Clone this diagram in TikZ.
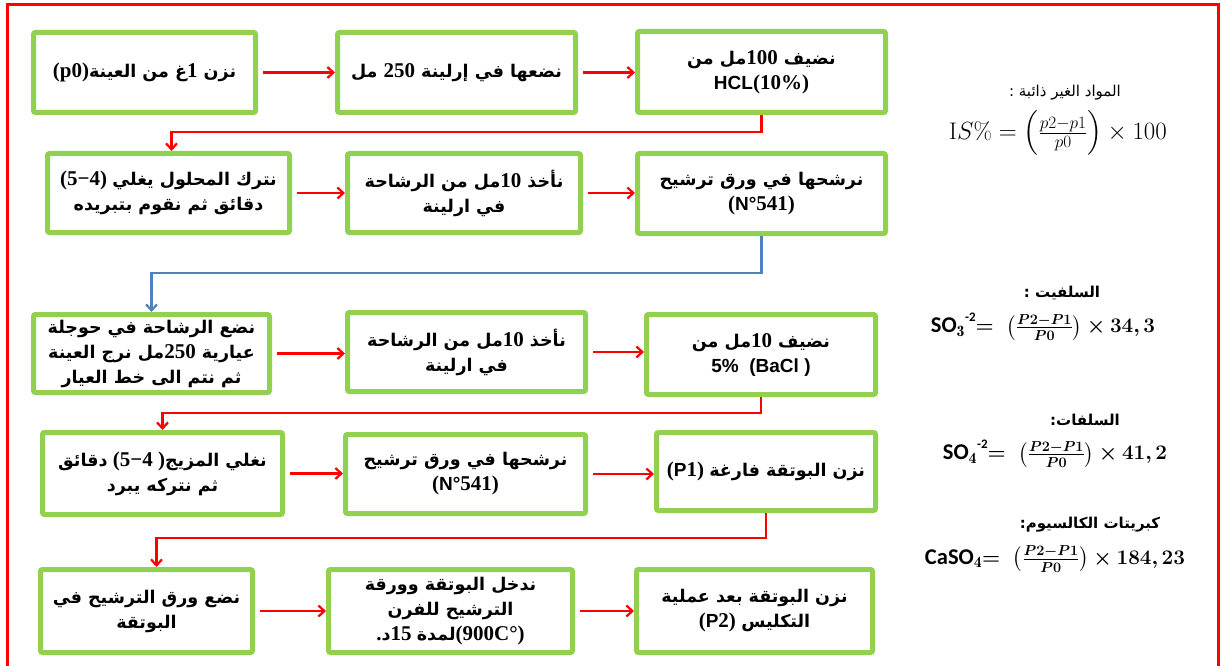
\documentclass[tikz,border=0pt]{standalone}
\usepackage{amsmath}
\usepackage{bm}
\usepackage{fontspec}
\usetikzlibrary{arrows.meta,calc}
\TeXXeTstate=1
\newfontfamily\arfont[Script=Arabic]{DejaVu Sans}
\newfontfamily\serfont{Liberation Serif}
\newfontfamily\sanfont{Liberation Sans}
\newfontfamily\calfont{Carlito}
\newcommand\AR[1]{{\arfont\bfseries\beginR #1\endR}}
\newcommand\NUM[1]{{\serfont\bfseries\fontsize{21}{25}\selectfont #1}}
\newcommand\HB[1]{\hbox{\serfont\bfseries\fontsize{21}{25}\selectfont #1}}
\newcommand\LS[1]{{\sanfont\bfseries\fontsize{19}{25}\selectfont #1}}
\definecolor{boxgreen}{RGB}{146,208,80}
\definecolor{lineblue}{RGB}{79,129,189}
\definecolor{framered}{RGB}{255,0,0}
\begin{document}
\begin{tikzpicture}[x=1pt,y=-1pt,
  stepbox/.style={draw=boxgreen, line width=5pt, fill=white, rounded corners=2pt,
    align=center, inner sep=1pt, font=\fontsize{17.5}{25}\selectfont},
  redarrow/.style={draw=framered, line width=2.2pt, -{Straight Barb[length=6pt,width=11pt]}},
  bluearrow/.style={draw=lineblue, line width=2.2pt, -{Straight Barb[length=6pt,width=11pt]}},
  titletext/.style={inner sep=0pt, font=\fontsize{15}{18}\selectfont},
  formula/.style={inner sep=0pt, font=\fontsize{22.5}{24}\selectfont}]
\useasboundingbox (0,0) rectangle (1221,666);
\fill[white] (0,0) rectangle (1221,666);
\draw[framered, line width=3pt] (7,700) -- (7,5) -- (1218,5) -- (1218,700);

% row 1
\node[stepbox, minimum width=222pt, minimum height=80pt] (A) at (144.5,72.5)
  {\NUM{(p0)}\AR{نزن \NUM{1}غ من العينة}};
\node[stepbox, minimum width=238pt, minimum height=80pt] (B) at (456.5,72.5)
  {\AR{نضعها في إرلينة \NUM{250} مل}};
\node[stepbox, minimum width=248pt, minimum height=81pt] (C) at (761.5,72)
  {\AR{نضيف \NUM{100}مل من}\\ \LS{HCL}\NUM{(10\%)}};
% row 2
\node[stepbox, minimum width=242pt, minimum height=79pt] (D) at (168.5,193)
  {\HB{(5}\HB{−}\HB{4)}\ \AR{نترك المحلول يغلي}\\ \AR{دقائق ثم نقوم بتبريده}};
\node[stepbox, minimum width=233pt, minimum height=79pt] (E) at (464,193)
  {\AR{نأخذ \NUM{10}مل من الرشاحة}\\ \AR{في ارلينة}};
\node[stepbox, minimum width=248pt, minimum height=80pt] (F) at (761.5,193.5)
  {\AR{نرشحها في ورق ترشيح}\\ \NUM{(}\LS{N°}\NUM{541)}};
% row 3
\node[stepbox, minimum width=236pt, minimum height=78pt] (G) at (151.5,353.5)
  {\AR{نضع الرشاحة في حوجلة}\\ \AR{عيارية \NUM{250}مل نرج العينة}\\ \AR{ثم نتم الى خط العيار}};
\node[stepbox, minimum width=238pt, minimum height=79pt] (H) at (466.5,352)
  {\AR{نأخذ \NUM{10}مل من الرشاحة}\\ \AR{في ارلينة}};
\node[stepbox, minimum width=229pt, minimum height=80pt] (I) at (761,354.5)
  {\AR{نضيف \NUM{10}مل من}\\ \LS{5\%\ \ (BaCl )}};
% row 4
\node[stepbox, minimum width=240pt, minimum height=82pt] (J) at (162.5,473.5)
  {\hbox{\AR{دقائق}}\ \HB{(5}\HB{−}\HB{4\ )}\hbox{\AR{نغلي المزيج}}\\ \AR{ثم نتركه يبرد}};
\node[stepbox, minimum width=240pt, minimum height=79pt] (K) at (465.5,474)
  {\AR{نرشحها في ورق ترشيح}\\ \NUM{(}\LS{N°}\NUM{541)}};
\node[stepbox, minimum width=219pt, minimum height=78pt] (L) at (766,471.5)
  {\NUM{(}\LS{P}\NUM{1)}\ \AR{نزن البوتقة فارغة}};
% row 5
\node[stepbox, minimum width=212pt, minimum height=83pt] (M) at (146.5,611)
  {\AR{نضع ورق الترشيح في}\\ \AR{البوتقة}};
\node[stepbox, minimum width=244pt, minimum height=83pt] (N) at (450.5,611)
  {\AR{ندخل البوتقة وورقة}\\ \AR{الترشيح للفرن}\\ \HB{.}\hbox{\AR{د}}\HB{15}\ \hbox{\AR{لمدة}}\HB{(900C°)}};
\node[stepbox, minimum width=236pt, minimum height=83pt] (O) at (754.5,611)
  {\AR{نزن البوتقة بعد عملية}\\ \NUM{(}\LS{P}\NUM{2)}\ \AR{التكليس}};

% horizontal arrows
\draw[redarrow] ([xshift=5pt]A.east) -- (A.east -| B.west);
\draw[redarrow] ([xshift=5pt]B.east) -- (B.east -| C.west);
\draw[redarrow] ([xshift=5pt]D.east) -- (D.east -| E.west);
\draw[redarrow] ([xshift=5pt]E.east) -- (E.east -| F.west);
\draw[redarrow] ([xshift=5pt]G.east) -- (G.east -| H.west);
\draw[redarrow] ([xshift=5pt]H.east) -- (H.east -| I.west);
\draw[redarrow] ([xshift=5pt]J.east) -- (J.east -| K.west);
\draw[redarrow] ([xshift=5pt]K.east) -- (K.east -| L.west);
\draw[redarrow] ([xshift=5pt]M.east) -- (M.east -| N.west);
\draw[redarrow] ([xshift=5pt]N.east) -- (N.east -| O.west);

% row-to-row connectors
\draw[redarrow] (C.south) -- ++(0,17) -| ([xshift=3pt]D.north);
\draw[bluearrow] (F.south) -- ++(0,37) -| (G.north);
\draw[redarrow] (I.south) -- ++(0,16) -| (J.north);
\draw[redarrow] (L.south) -- ++(0,25) -| ([xshift=10pt]M.north);

% formulas
\node[titletext] (t1) at (1065,93) {\AR{\mdseries المواد الغير ذائبة :}};
\node[formula, font=\fontsize{24}{26}\selectfont] (f1) at (1058,133) {$\mathrm{I}S\% = \left(\frac{p2-p1}{p0}\right)\times 100$};
\node[titletext] (t2) at (1062,293) {\AR{السلفيت :}};
\node[formula] (f2) at (1043,327) {{\calfont\bfseries SO$_{\mathbf{3}}$\raisebox{1ex}{\fontsize{13}{13}\selectfont -2}}$\bm{=\ \left(\frac{P2-P1}{P0}\right)\times \mathbf{34},\mathbf{3}}$};
\node[titletext] (t3) at (1085,420) {\AR{السلفات:}};
\node[formula] (f3) at (1055,454) {{\calfont\bfseries SO$_{\mathbf{4}}$\raisebox{1ex}{\fontsize{13}{13}\selectfont -2}}$\bm{=\ \left(\frac{P2-P1}{P0}\right)\times \mathbf{41},\mathbf{2}}$};
\node[titletext] (t4) at (1090,525) {\AR{كبريتات الكالسيوم:}};
\node[formula] (f4) at (1055,559) {{\calfont\bfseries CaSO$_{\mathbf{4}}$}$\bm{=\ \left(\frac{P2-P1}{P0}\right)\times \mathbf{184},\mathbf{23}}$};
\end{tikzpicture}
\end{document}
